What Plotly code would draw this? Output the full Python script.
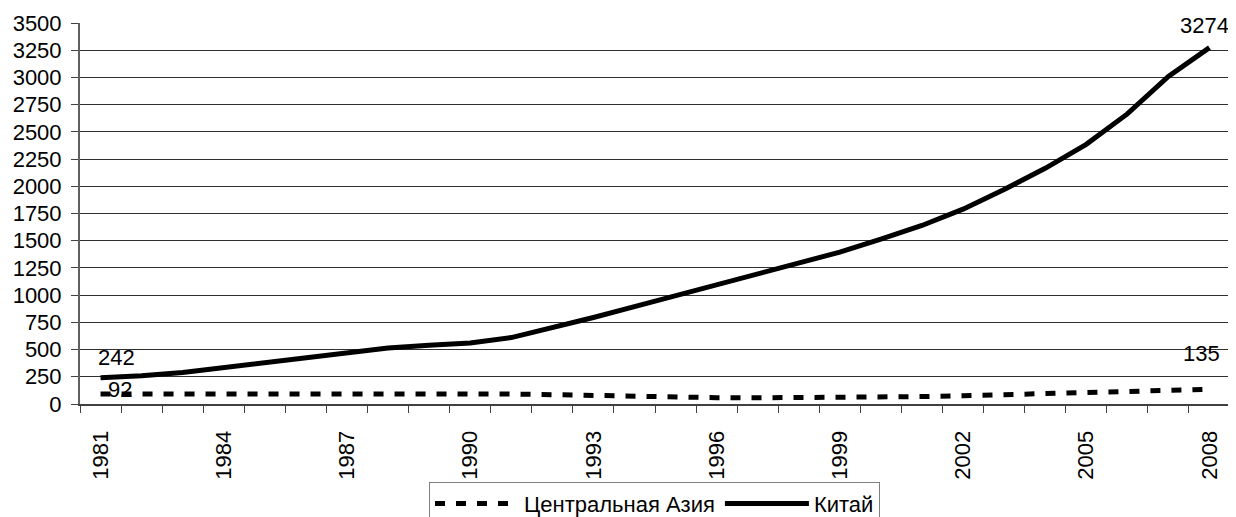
import plotly.graph_objects as go

years = list(range(1981, 2009))
central_asia = [92, 90, 89, 88, 89, 91, 93, 95, 97, 98, 92, 86, 77, 68, 62, 58,
                57, 57, 58, 63, 68, 76, 84, 94, 107, 115, 125, 135]
china = [242, 260, 290, 335, 380, 420, 465, 515, 540, 560, 610, 700, 795, 895,
         995, 1095, 1200, 1295, 1395, 1515, 1640, 1790, 1970, 2165, 2385, 2665,
         3010, 3274]
series_names = ["Центральная Азия", "Китай"]
tick_years = list(range(1981, 2009, 3))
y_ticks = list(range(0, 3501, 250))

FONT = "Liberation Sans, Arial, sans-serif"
FS = 22

fig = go.Figure()
fig.add_trace(go.Scatter(x=years, y=central_asia, name=series_names[0], mode="lines",
                         line=dict(color="black", width=5, dash="10px,11px")))
fig.add_trace(go.Scatter(x=years, y=china, name=series_names[1], mode="lines",
                         line=dict(color="black", width=5)))

ann = [
    (years[0], china[0], 16, 20),
    (years[0], central_asia[0], 19, 4),
    (years[-1], central_asia[-1], -8, 36),
    (years[-1], china[-1], -5, 22),
]
for x, y, xs, ys in ann:
    fig.add_annotation(x=x, y=y, xref="x", yref="y", text=str(y), showarrow=False,
                       xshift=xs, yshift=ys, font=dict(family=FONT, size=FS, color="black"))

# page body has an 8px margin; the figure is sized so it fits the 1236x517 window
fig.update_layout(
    width=1228, height=509,
    margin=dict(l=72, r=6, t=15, b=113, autoexpand=False),
    paper_bgcolor="white", plot_bgcolor="white",
    font=dict(family=FONT, size=FS, color="black"),
    showlegend=True,
    legend=dict(orientation="h", x=0.3035, y=-0.204, xanchor="left", yanchor="top",
                bordercolor="#808080", borderwidth=1, itemwidth=84,
                font=dict(family=FONT, size=FS, color="black"), bgcolor="white"),
    xaxis=dict(range=[1980.5, 2008.5], tickmode="array", tickvals=tick_years,
               ticktext=[str(t) for t in tick_years], tickangle=-90,
               ticks="", showgrid=False, showline=True, linecolor="#404040", linewidth=2,
               ticklabelstandoff=16, automargin=False,
               minor=dict(tickmode="linear", tick0=1980.5, dtick=1, ticks="outside",
                          ticklen=7, tickcolor="#404040", tickwidth=1, showgrid=False),
               zeroline=False, tickfont=dict(family=FONT, size=FS)),
    yaxis=dict(range=[0, 3500], tickmode="array", tickvals=y_ticks,
               ticks="outside", ticklen=7, tickcolor="#404040", automargin=False,
               ticklabelstandoff=5,
               showgrid=True, gridcolor="#303030", gridwidth=1,
               showline=True, linecolor="#606060", linewidth=2, mirror=True,
               zeroline=False, tickfont=dict(family=FONT, size=FS)),
)

fig.write_html("out.html")
